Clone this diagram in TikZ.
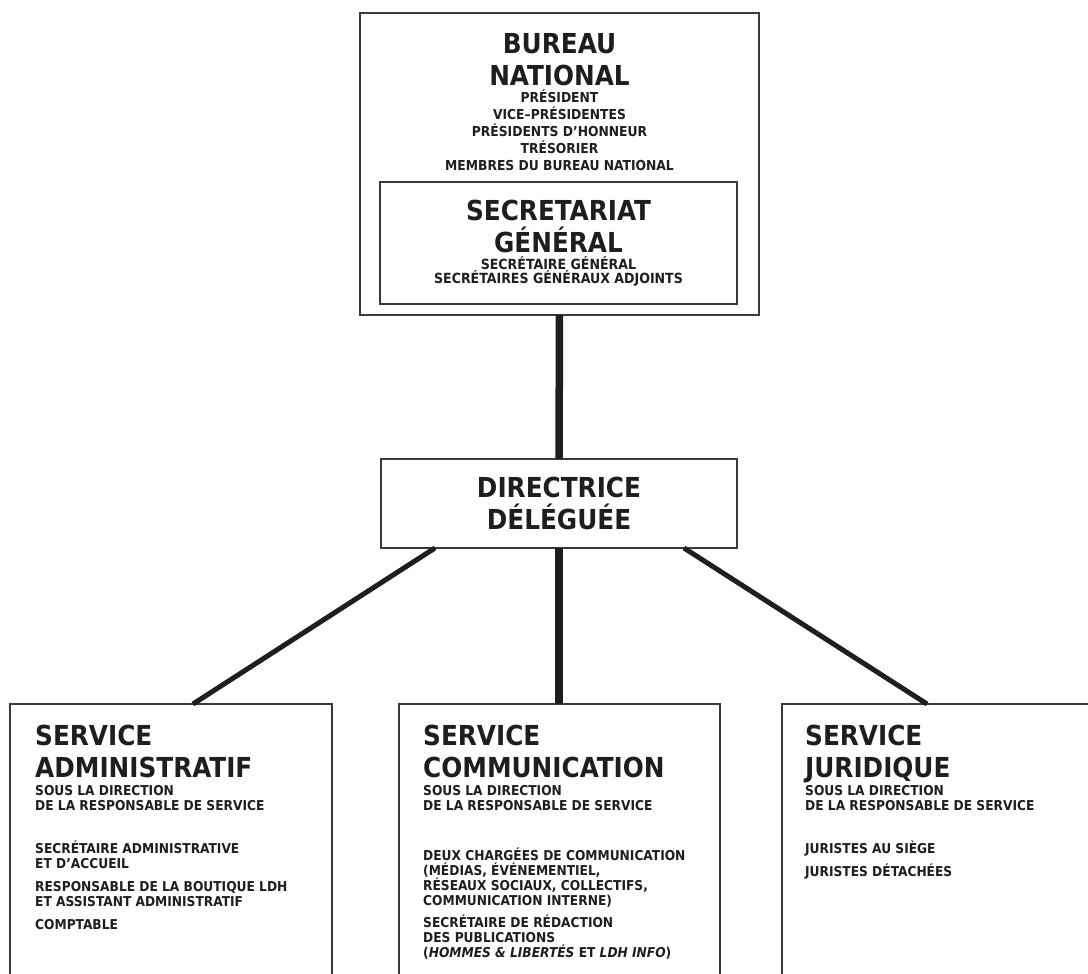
\documentclass[tikz,border=0pt]{standalone}
\usepackage{fontspec}
\setmainfont{DejaVu Sans Condensed}
\usetikzlibrary{calc,positioning}

\newcommand{\grand}{\fontsize{27.5}{32}\selectfont\bfseries}
\newcommand{\moyen}{\fontsize{13.7}{17}\selectfont\bfseries}
\newcommand{\petit}{\fontsize{13.6}{15}\selectfont\bfseries}

\definecolor{encre}{HTML}{1E1E1E}
\definecolor{trait}{HTML}{3A3A3A}

\begin{document}
\begin{tikzpicture}[x=1pt,y=-1pt,
        boite/.style={draw=trait, line width=2pt, rectangle, inner sep=0pt, outer sep=0pt},
        titre/.style={inner sep=0pt, text=encre, font=\grand, text depth=0pt},
        liste/.style={inner sep=0pt, text=encre, font=\petit, align=left},
        lien/.style={draw=encre, line width=7.5pt},
        branche/.style={draw=encre, line width=5pt}
      ]
  \useasboundingbox (0,0) rectangle (1088,974);
  \clip (0,0) rectangle (1088,974);

  \node   (bureau) [boite,minimum width=399pt,minimum height=302pt] at (559.5,164) {};
  \node   (bureautitre) [titre,align=center,below=20pt of bureau.north] {BUREAU\\NATIONAL};
  \node   (bureauliste) [liste,font=\moyen,align=center,below=4pt of bureautitre] {PRÉSIDENT\\VICE--PRÉSIDENTES\\PRÉSIDENTS D'HONNEUR\\TRÉSORIER\\MEMBRES DU BUREAU NATIONAL};

  \node   (secretariat) [boite,minimum width=357pt,minimum height=122pt] at (558.5,243) {};
  \node   (secrtitre) [titre,align=center,below=18pt of secretariat.north] {SECRETARIAT\\GÉNÉRAL};
  \node   (secrliste) [liste,font={\fontsize{14}{14}\selectfont\bfseries},align=center,below=4pt of secrtitre] {SECRÉTAIRE GÉNÉRAL\\SECRÉTAIRES GÉNÉRAUX ADJOINTS};

  \node   (directrice) [boite,minimum width=356pt,minimum height=89pt,text=encre,font=\grand,align=center] at (559,503.5) {DIRECTRICE\\DÉLÉGUÉE};

  \node   (admin) [boite,minimum width=322pt,minimum height=300pt,anchor=north west] at (10,704) {};
  \node   (comm) [boite,right=67pt of admin.north east,anchor=north west,minimum width=321pt,minimum height=300pt] {};
  \node   (juridique) [boite,right=62pt of comm.north east,anchor=north west,minimum width=326pt,minimum height=300pt] {};

  \node   (admintitre) [titre,align=left,below right=21pt and 25pt of admin.north west] {SERVICE\\ADMINISTRATIF};
  \node   (admindir) [liste,below=7pt of admintitre.south west,anchor=north west] {SOUS LA DIRECTION\\DE LA RESPONSABLE DE SERVICE};
  \node   (adminliste) [liste,below=30pt of admindir.south west,anchor=north west] {SECRÉTAIRE ADMINISTRATIVE\\ET D'ACCUEIL\\[8pt]RESPONSABLE DE LA BOUTIQUE LDH\\ET ASSISTANT ADMINISTRATIF\\[8pt]COMPTABLE};

  \node   (commtitre) [titre,align=left,below right=21pt and 24pt of comm.north west] {SERVICE\\COMMUNICATION};
  \node   (commdir) [liste,below=7pt of commtitre.south west,anchor=north west] {SOUS LA DIRECTION\\DE LA RESPONSABLE DE SERVICE};
  \node   (commliste) [liste,below=37pt of commdir.south west,anchor=north west] {DEUX CHARGÉES DE COMMUNICATION\\(MÉDIAS, ÉVÉNEMENTIEL,\\RÉSEAUX SOCIAUX, COLLECTIFS,\\COMMUNICATION INTERNE)\\[7pt]SECRÉTAIRE DE RÉDACTION\\DES PUBLICATIONS\\(\textit{HOMMES \& LIBERTÉS} ET \textit{LDH INFO})};

  \node   (jurtitre) [titre,align=left,below right=21pt and 23pt of juridique.north west] {SERVICE\\JURIDIQUE};
  \node   (jurdir) [liste,below=7pt of jurtitre.south west,anchor=north west] {SOUS LA DIRECTION\\DE LA RESPONSABLE DE SERVICE};
  \node   (jurliste) [liste,below=30pt of jurdir.south west,anchor=north west] {JURISTES AU SIÈGE\\[7pt]JURISTES DÉTACHÉES};

  \draw[lien] (bureau.south) -- (directrice.north);
  \draw[lien] (directrice.south) -- (directrice.south |- comm.north);
  \draw[branche] ($(directrice.south)+(-124,0)$) -- ($(admin.north)+(22,0)$);
  \draw[branche] ($(directrice.south)+(125,0)$) -- ($(juridique.north)+(-18,0)$);

\end{tikzpicture}
\end{document}
